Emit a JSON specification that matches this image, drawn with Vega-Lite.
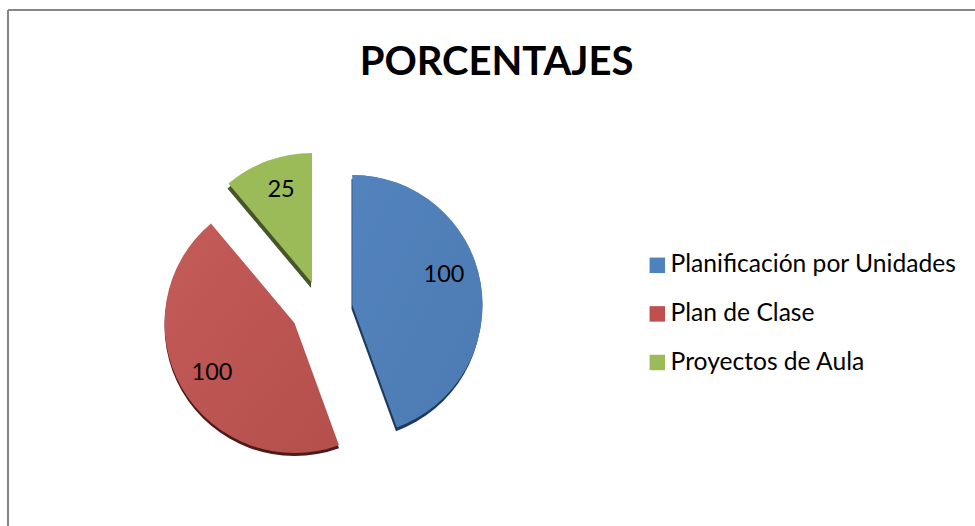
{"$schema":"https://vega.github.io/schema/vega-lite/v6.json","width":967,"height":516,"padding":{"left":8,"top":10,"right":0,"bottom":0},"autosize":{"type":"none"},"background":"white","view":{"stroke":null},"title":{"text":"PORCENTAJES","font":"Lato","fontSize":40,"fontWeight":"bold","color":"#000000","anchor":"middle","dx":5,"dy":110,"baseline":"alphabetic"},"data":{"values":[{"categoria":"Planificación por Unidades","valor":100,"orden":1},{"categoria":"Plan de Clase","valor":100,"orden":2},{"categoria":"Proyectos de Aula","valor":25,"orden":3}]},"transform":[{"stack":"valor","sort":[{"field":"orden","order":"ascending"}],"as":["v0","v1"]}],"layer":[{"encoding":{"theta":{"field":"v0","type":"quantitative","scale":{"domain":[0,225]}},"theta2":{"field":"v1"}},"layer":[{"transform":[{"filter":"datum.orden==1"}],"mark":{"type":"arc","radius":130,"xOffset":-140,"yOffset":41,"fill":"#1f3a5c"}},{"transform":[{"filter":"datum.orden==2"}],"mark":{"type":"arc","radius":130,"xOffset":-197,"yOffset":58,"fill":"#4f1a1a"}},{"transform":[{"filter":"datum.orden==3"}],"mark":{"type":"arc","radius":130,"xOffset":-180.5,"yOffset":20,"fill":"#46552a"}},{"mark":{"type":"arc","radius":130,"xOffset":-139,"yOffset":37},"transform":[{"filter":"datum.orden==1"}],"encoding":{"color":{"field":"categoria","type":"nominal","scale":{"domain":["Planificación por Unidades","Plan de Clase","Proyectos de Aula"],"range":["#4f81bd","#c0504d","#9bbb59"]},"legend":{"title":null,"orient":"none","legendX":637,"legendY":243,"symbolType":"square","symbolSize":240,"symbolStrokeWidth":0,"labelFont":"Lato","labelFontSize":24.6,"labelColor":"#000000","labelLimit":400,"rowPadding":23.6,"labelOffset":1}}}},{"mark":{"type":"arc","radius":130,"xOffset":-197,"yOffset":55,"fill":{"x1":0,"y1":0,"x2":1,"y2":1,"gradient":"linear","stops":[{"offset":0,"color":"#c45c59"},{"offset":1,"color":"#b44f4c"}]}},"transform":[{"filter":"datum.orden==2"}]},{"mark":{"type":"arc","radius":130,"xOffset":-179.5,"yOffset":15,"fill":"#9bbb59"},"transform":[{"filter":"datum.orden==3"}]},{"mark":{"type":"arc","radius":130,"xOffset":-139,"yOffset":37,"fill":{"x1":0,"y1":0,"x2":1,"y2":1,"gradient":"linear","stops":[{"offset":0,"color":"#5383bd"},{"offset":1,"color":"#4c7bb2"}]}},"transform":[{"filter":"datum.orden==1"}]}]},{"transform":[{"filter":"datum.orden==1"}],"mark":{"type":"text","font":"Lato","fontSize":23.5,"color":"#000000","xOffset":-47.5,"yOffset":7},"encoding":{"text":{"field":"valor","type":"quantitative"}}},{"transform":[{"filter":"datum.orden==2"}],"mark":{"type":"text","font":"Lato","fontSize":23.5,"color":"#000000","xOffset":-279.5,"yOffset":105},"encoding":{"text":{"field":"valor","type":"quantitative"}}},{"transform":[{"filter":"datum.orden==3"}],"mark":{"type":"text","font":"Lato","fontSize":23.5,"color":"#000000","xOffset":-210.5,"yOffset":-78},"encoding":{"text":{"field":"valor","type":"quantitative"}}},{"mark":{"type":"rule","color":"#868686","strokeWidth":2},"encoding":{"x":{"value":0}}},{"mark":{"type":"rule","color":"#868686","strokeWidth":2},"encoding":{"y":{"value":0}}}]}
